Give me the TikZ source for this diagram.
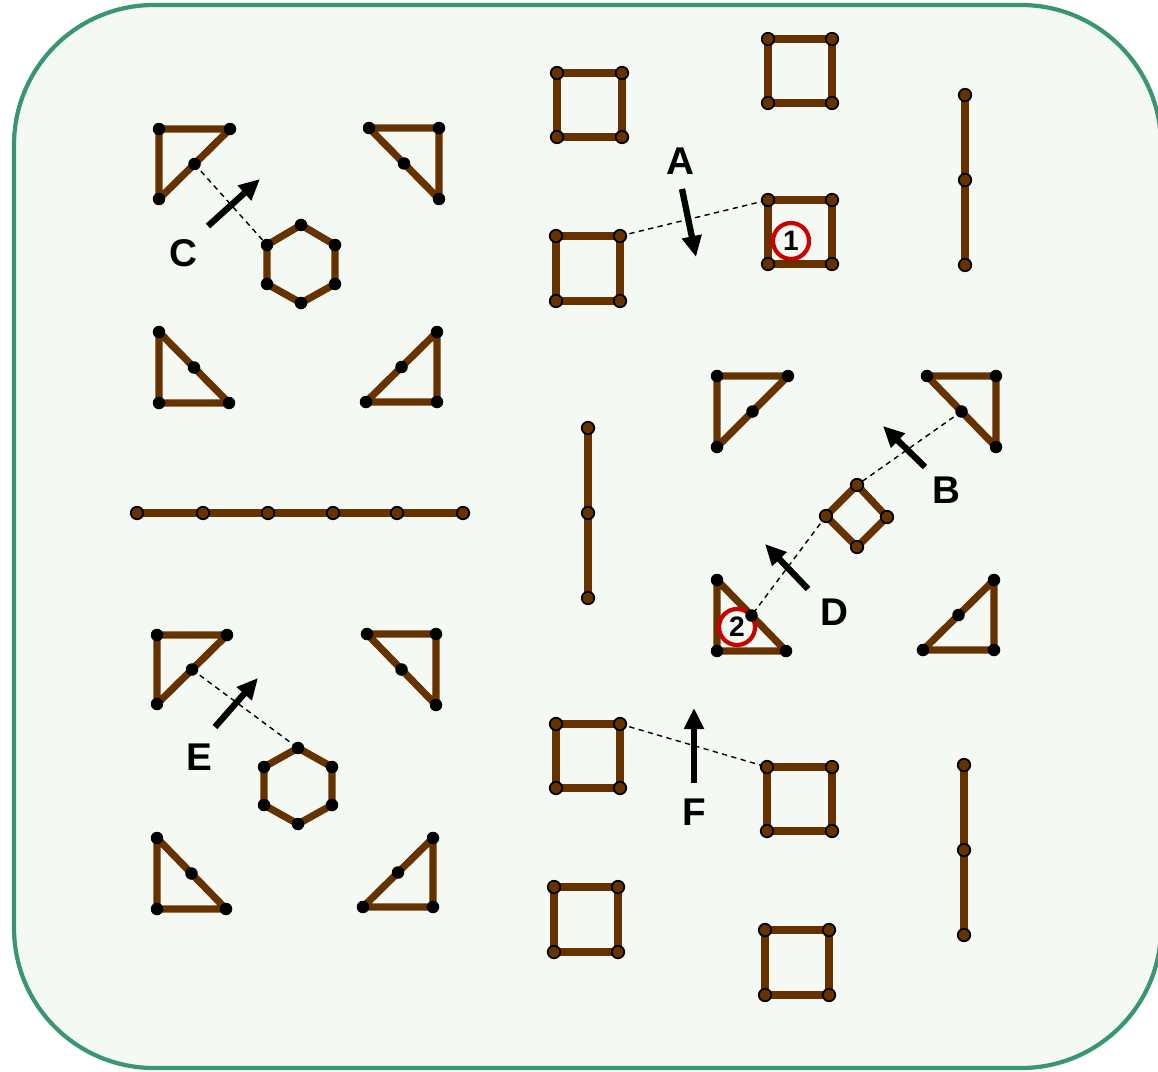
\documentclass[tikz,border=0pt]{standalone}
\usepackage{fontspec}
\setmainfont{Liberation Sans}
\usetikzlibrary{arrows.meta,calc}
\definecolor{bgc}{HTML}{F4F9F3}
\definecolor{framec}{HTML}{3A9670}
\definecolor{brownc}{HTML}{663300}
\definecolor{redc}{HTML}{CC0000}
\tikzset{
  edge/.style={draw=brownc, line width=4.1pt, line join=round},
  bdot/.style={circle, fill=black, inner sep=0pt, minimum size=0.25cm},
  odot/.style={circle, fill=brownc, draw=black, line width=1pt, inner sep=0pt, minimum size=0.25cm},
  guide/.style={draw=black, line width=0.8pt, dash pattern=on 3pt off 2.5pt},
  move/.style={draw=black, line width=3.6pt, -{Triangle[length=0.42cm,width=0.38cm]}},
  lab/.style={inner sep=0pt, font=\fontsize{22}{22}\bfseries\selectfont, text=black},
  badge/.style={circle, draw=redc, fill=bgc, line width=2.4pt, minimum size=0.72cm, inner sep=0pt, font=\fontsize{16}{16}\bfseries\selectfont}
}
\begin{document}
\begin{tikzpicture}[x=0.02cm,y=-0.02cm]
\useasboundingbox (0,0) rectangle (1158,1071);
\draw[draw=framec, fill=bgc, line width=2.4pt, rounded corners=2.8cm] (14,5) rectangle (1161,1068);

% ---------- triangles (right angle vertex first) ----------
\coordinate (ta1) at (159,129); \coordinate (ta2) at (230,129); \coordinate (ta3) at (159,199);
\coordinate (tb1) at (439,128); \coordinate (tb2) at (369,128); \coordinate (tb3) at (439,199);
\coordinate (tc1) at (159,403); \coordinate (tc2) at (159,332); \coordinate (tc3) at (229,403);
\coordinate (td1) at (437,402); \coordinate (td2) at (437,332); \coordinate (td3) at (366,402);
\coordinate (te1) at (157,635); \coordinate (te2) at (227,635); \coordinate (te3) at (157,704);
\coordinate (tf1) at (436,634); \coordinate (tf2) at (367,634); \coordinate (tf3) at (436,705);
\coordinate (tg1) at (157,909); \coordinate (tg2) at (157,838); \coordinate (tg3) at (226,909);
\coordinate (th1) at (433,907); \coordinate (th2) at (433,838); \coordinate (th3) at (363,907);
\coordinate (ti1) at (717,376); \coordinate (ti2) at (788,376); \coordinate (ti3) at (717,447);
\coordinate (tj1) at (996,376); \coordinate (tj2) at (927,376); \coordinate (tj3) at (996,447);
\coordinate (tk1) at (717,651); \coordinate (tk2) at (717,580); \coordinate (tk3) at (786,651);
\coordinate (tl1) at (994,650); \coordinate (tl2) at (994,580); \coordinate (tl3) at (923,650);
\foreach \t in {ta,tb,tc,td,te,tf,tg,th,ti,tj,tk,tl}{
  \coordinate (\t m) at ($(\t2)!0.5!(\t3)$);
  \draw[edge] (\t1) -- (\t2) -- (\t3) -- cycle;
}

% ---------- hexagons ----------
\coordinate (ha1) at (301,225); \coordinate (ha2) at (335,245); \coordinate (ha3) at (335,284);
\coordinate (ha4) at (301,303); \coordinate (ha5) at (267,284); \coordinate (ha6) at (267,245);
\coordinate (hb1) at (298,748); \coordinate (hb2) at (332,767); \coordinate (hb3) at (332,805);
\coordinate (hb4) at (298,824); \coordinate (hb5) at (264,805); \coordinate (hb6) at (264,767);
\draw[edge] (ha1) -- (ha2) -- (ha3) -- (ha4) -- (ha5) -- (ha6) -- cycle;
\draw[edge] (hb1) -- (hb2) -- (hb3) -- (hb4) -- (hb5) -- (hb6) -- cycle;

% ---------- squares (tl, tr, br, bl) ----------
\coordinate (sa1) at (557,73);  \coordinate (sa2) at (622,73);  \coordinate (sa3) at (622,137); \coordinate (sa4) at (557,137);
\coordinate (sb1) at (768,39);  \coordinate (sb2) at (832,39);  \coordinate (sb3) at (832,103); \coordinate (sb4) at (768,103);
\coordinate (sc1) at (556,236); \coordinate (sc2) at (620,236); \coordinate (sc3) at (620,301); \coordinate (sc4) at (556,301);
\coordinate (sd1) at (768,200); \coordinate (sd2) at (832,200); \coordinate (sd3) at (832,264); \coordinate (sd4) at (768,264);
\coordinate (se1) at (556,724); \coordinate (se2) at (620,724); \coordinate (se3) at (620,788); \coordinate (se4) at (556,788);
\coordinate (sf1) at (767,767); \coordinate (sf2) at (832,767); \coordinate (sf3) at (832,831); \coordinate (sf4) at (767,831);
\coordinate (sg1) at (554,887); \coordinate (sg2) at (618,887); \coordinate (sg3) at (618,952); \coordinate (sg4) at (554,952);
\coordinate (sh1) at (765,930); \coordinate (sh2) at (829,930); \coordinate (sh3) at (829,995); \coordinate (sh4) at (765,995);
\coordinate (dm1) at (857,485); \coordinate (dm2) at (887,517); \coordinate (dm3) at (857,547); \coordinate (dm4) at (826,516);
\foreach \s in {sa,sb,sc,sd,se,sf,sg,sh,dm}{
  \draw[edge] (\s1) -- (\s2) -- (\s3) -- (\s4) -- cycle;
}

% ---------- straight sticks ----------
\coordinate (lh1) at (137,513); \coordinate (lh2) at (203,513); \coordinate (lh3) at (268,513);
\coordinate (lh4) at (333,513); \coordinate (lh5) at (397,513); \coordinate (lh6) at (463,513);
\coordinate (lv1) at (588,428); \coordinate (lv2) at (588,513); \coordinate (lv3) at (588,598);
\coordinate (lr1) at (965,95);  \coordinate (lr2) at (965,180); \coordinate (lr3) at (965,265);
\coordinate (lq1) at (964,765); \coordinate (lq2) at (964,850); \coordinate (lq3) at (964,935);
\draw[edge] (lh1) -- (lh6);
\draw[edge] (lv1) -- (lv3);
\draw[edge] (lr1) -- (lr3);
\draw[edge] (lq1) -- (lq3);

% ---------- dashed guides ----------
\draw[guide] (tam) -- (ha6);
\draw[guide] (tem) -- (hb1);
\draw[guide] (sc2) -- (sd1);
\draw[guide] (tjm) -- (dm1);
\draw[guide] (dm4) -- (tkm);
\draw[guide] (se2) -- (sf1);

% ---------- badges ----------
\node[badge] (b1) at (791,241) {1};
\node[badge] (b2) at (737,627) {2};

% ---------- dots ----------
\foreach \t in {ta,tb,tc,td,te,tf,tg,th,ti,tj,tk,tl}{
  \foreach \k in {1,2,3,m}{ \node[bdot] (\t\k d) at (\t\k) {}; }
}
\foreach \h in {ha,hb}{
  \foreach \k in {1,...,6}{ \node[bdot] (\h\k d) at (\h\k) {}; }
}
\foreach \s in {sa,sb,sc,sd,se,sf,sg,sh,dm}{
  \foreach \k in {1,...,4}{ \node[odot] (\s\k d) at (\s\k) {}; }
}
\foreach \k in {1,...,6}{ \node[odot] (lh\k d) at (lh\k) {}; }
\foreach \l in {lv,lr,lq}{
  \foreach \k in {1,2,3}{ \node[odot] (\l\k d) at (\l\k) {}; }
}

% ---------- movement arrows and labels ----------
\coordinate (aA1) at (682,189); \coordinate (aA2) at (696,257);
\coordinate (aB1) at (925,467); \coordinate (aB2) at (883,426);
\coordinate (aC1) at (208,226); \coordinate (aC2) at (260,179);
\coordinate (aD1) at (808,589); \coordinate (aD2) at (765,544);
\coordinate (aE1) at (215,727); \coordinate (aE2) at (258,678);
\coordinate (aF1) at (694,783); \coordinate (aF2) at (694,708);
\foreach \a in {A,B,C,D,E,F}{ \draw[move] (a\a1) -- (a\a2); }
\node[lab] (labA) at (680,161) {A};
\node[lab] (labB) at (946,490) {B};
\node[lab] (labC) at (183,253) {C};
\node[lab] (labD) at (834,612) {D};
\node[lab] (labE) at (199,757) {E};
\node[lab] (labF) at (694,812) {F};
\end{tikzpicture}
\end{document}
